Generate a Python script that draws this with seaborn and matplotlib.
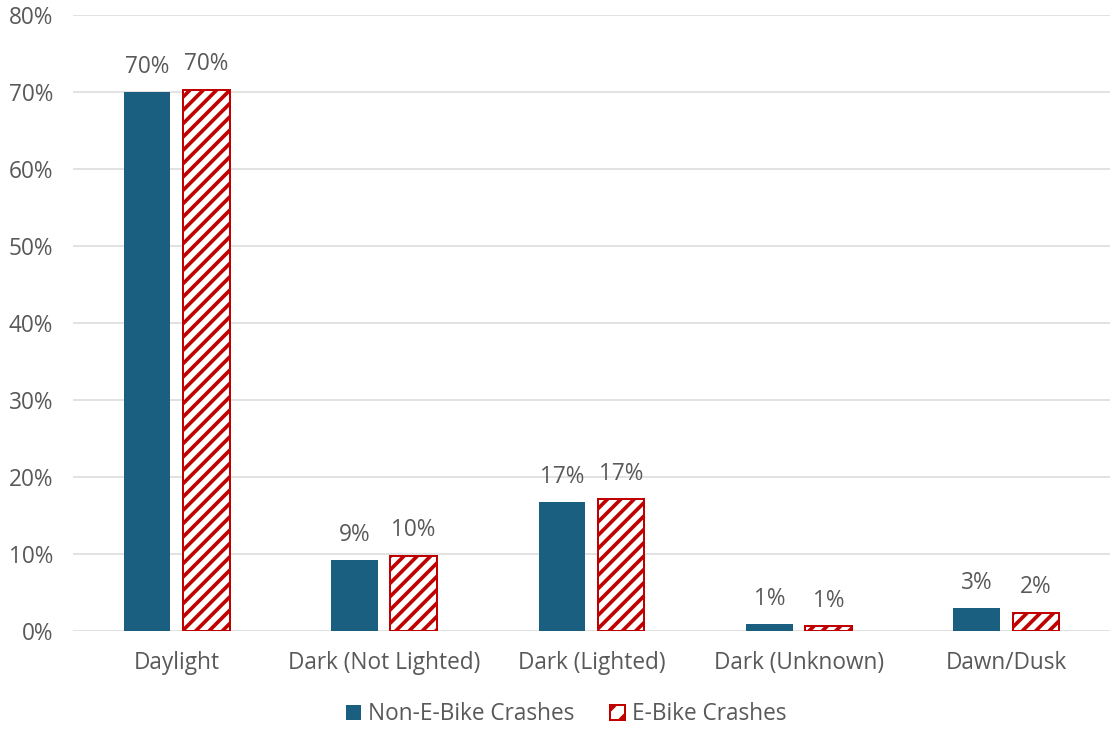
import matplotlib
matplotlib.use("Agg")
import matplotlib.pyplot as plt
import seaborn as sns
import pandas as pd
from matplotlib.patches import Patch

categories = ["Daylight", "Dark (Not Lighted)", "Dark (Lighted)", "Dark (Unknown)", "Dawn/Dusk"]
series_names = ["Non-E-Bike Crashes", "E-Bike Crashes"]
non_ebike = [70.0, 9.2, 16.7, 0.85, 2.95]
ebike = [70.3, 9.8, 17.1, 0.6, 2.4]
y_ticks = [0, 10, 20, 30, 40, 50, 60, 70, 80]

BLUE = "#1A5E80"
RED = "#C00000"
TEXT = "#595959"
GRID = "#D9D9D9"
FS = 13.6

df = pd.DataFrame({
    "Lighting": categories * 2,
    "Series": [series_names[0]] * len(categories) + [series_names[1]] * len(categories),
    "Share": non_ebike + ebike,
})

sns.set_theme(style="white")
plt.rcParams["font.family"] = ["Open Sans", "DejaVu Sans"]
plt.rcParams["hatch.linewidth"] = 2.2

DPI = 120
fig = plt.figure(figsize=(1110 / DPI, 734 / DPI), dpi=DPI)
ax = fig.add_axes([73 / 1110, 1 - 631 / 734, 1 - 73 / 1110, (631 - 15) / 734])

sns.barplot(data=df, x="Lighting", y="Share", hue="Series", order=categories,
            hue_order=series_names, palette=[BLUE, RED], width=0.57, gap=0.21,
            ax=ax, legend=False, saturation=1)

# restyle the e-bike bars as red diagonal hatching on white
for patch in ax.containers[1]:
    patch.set_facecolor("white")
    patch.set_edgecolor(RED)
    patch.set_linewidth(1.2)
    patch.set_hatch("///")
for patch in ax.containers[0]:
    patch.set_edgecolor("none")

for cont, vals in zip(ax.containers, [non_ebike, ebike]):
    ax.bar_label(cont, labels=[f"{v:.0f}%" for v in vals], padding=8,
                 fontsize=FS, color=TEXT)

ax.set_ylim(0, 80)
ax.set_xlim(-0.5, len(categories) - 0.5)
ax.set_yticks(y_ticks)
ax.set_yticklabels([f"{t}%" for t in y_ticks])
ax.yaxis.grid(True, color=GRID, linewidth=0.9)
ax.set_axisbelow(True)
for s in ax.spines.values():
    s.set_visible(False)
ax.tick_params(axis="y", length=0, pad=12, labelsize=FS, labelcolor=TEXT)
ax.tick_params(axis="x", length=0, pad=12, labelsize=FS, labelcolor=TEXT)
ax.set_xlabel("")
ax.set_ylabel("")

handles = [
    Patch(facecolor=BLUE, edgecolor="none", label=series_names[0]),
    Patch(facecolor="white", edgecolor=RED, hatch="//", linewidth=1.2, label=series_names[1]),
]
fig.legend(handles=handles, loc="center", bbox_to_anchor=(0.510, 0.027), ncol=2,
           frameon=False, fontsize=FS, labelcolor=TEXT, handlelength=0.65,
           handleheight=0.65, handletextpad=0.3, columnspacing=1.6)

fig.savefig("out.png", dpi=DPI)
